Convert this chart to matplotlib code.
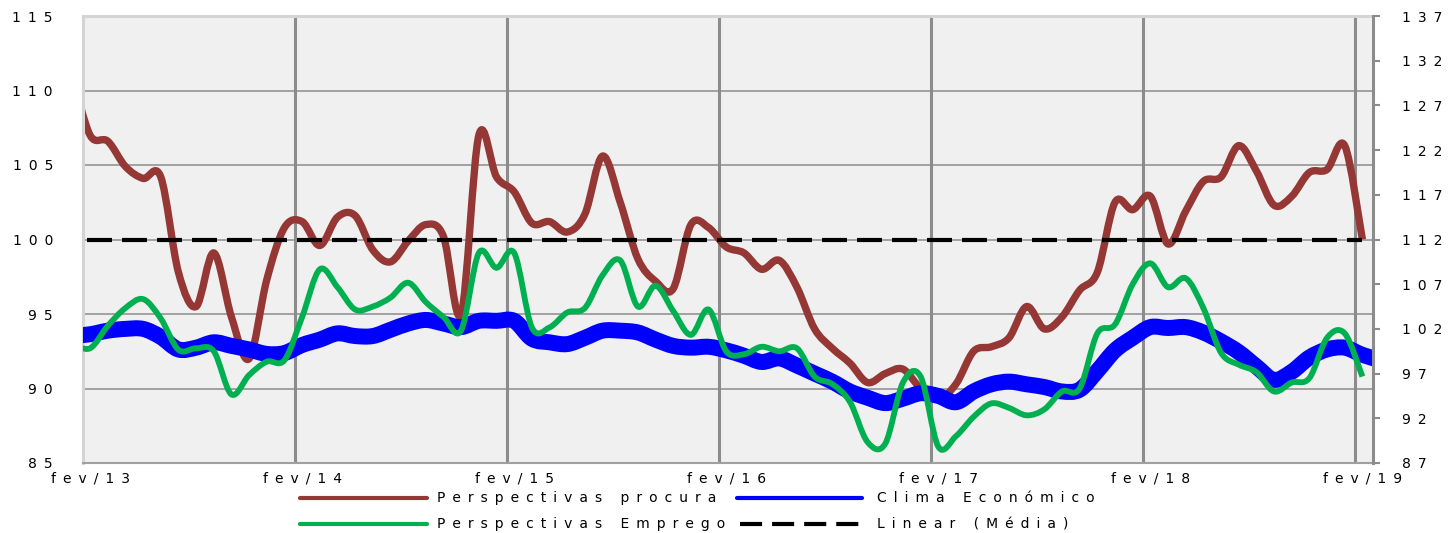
import numpy as np
import matplotlib
matplotlib.use("Agg")
import matplotlib.pyplot as plt
from matplotlib.path import Path
from matplotlib.patches import PathPatch
from matplotlib.lines import Line2D

plt.rcParams['font.family'] = ['DejaVu Sans']

# Months counted from fev/13 (jan/13 = -1 ... fev/19 = 72)
meses = np.arange(-1, 73)
meses_clima = np.arange(-1, 74)          # Clima Económico runs to mar/19

perspectivas_procura = [
    111.0, 107.0, 106.6, 104.9, 104.1, 104.2, 97.8, 95.5, 99.1, 94.8, 92.0, 97.3, 100.8,
    101.2, 99.6, 101.5, 101.6, 99.3, 98.5, 99.9, 101.0, 100.2, 95.0, 107.0, 104.2,
    103.2, 101.1, 101.2, 100.5, 101.7, 105.6, 102.5, 98.7, 97.2, 96.7, 101.0, 100.8,
    99.5, 99.1, 98.0, 98.6, 96.8, 94.0, 92.7, 91.7, 90.4, 91.0, 91.3, 90.0,
    89.3, 90.3, 92.5, 92.8, 93.4, 95.5, 94.0, 94.8, 96.6, 97.8, 102.5, 102.0,
    102.9, 99.7, 101.9, 103.9, 104.2, 106.3, 104.6, 102.3, 102.9, 104.5, 104.7, 106.3,
    100.0,
]

perspectivas_emprego = [
    93.0, 92.7, 94.2, 95.4, 96.0, 94.7, 92.6, 92.7, 92.5, 89.6, 90.9, 91.8, 91.9,
    94.8, 98.0, 96.8, 95.3, 95.5, 96.1, 97.1, 95.8, 94.8, 93.9, 99.1, 98.1,
    99.1, 94.1, 94.1, 95.1, 95.4, 97.6, 98.6, 95.5, 96.9, 95.2, 93.6, 95.3,
    92.5, 92.3, 92.8, 92.5, 92.7, 90.8, 90.3, 89.1, 86.4, 86.3, 90.4, 90.8,
    86.1, 86.8, 88.1, 89.0, 88.7, 88.2, 88.6, 89.8, 90.0, 93.7, 94.3, 97.0,
    98.4, 96.8, 97.4, 95.4, 92.4, 91.6, 91.1, 89.8, 90.4, 90.7, 93.4, 93.7,
    90.8,
]

clima_economico = [
    101.2, 101.4, 101.8, 102.0, 102.0, 101.1, 99.7, 99.9, 100.5, 100.1, 99.7, 99.2, 99.3,
    100.2, 100.8, 101.5, 101.2, 101.2, 101.9, 102.6, 103.0, 102.6, 102.2, 102.9, 102.9,
    102.9, 100.9, 100.5, 100.3, 101.0, 101.8, 101.8, 101.6, 100.8, 100.1, 99.9, 100.0,
    99.6, 99.0, 98.3, 98.7, 97.9, 97.0, 96.1, 95.0, 94.3, 93.7, 94.2, 94.8,
    94.5, 93.8, 95.0, 95.8, 96.1, 95.8, 95.5, 95.0, 95.2, 97.3, 99.6, 101.0,
    102.2, 102.1, 102.2, 101.6, 100.6, 99.4, 97.8, 96.3, 97.2, 98.8, 99.7, 99.9,
    99.1, 98.5,
]

media = 100.0

rotulos_x = ['fev/13', 'fev/14', 'fev/15', 'fev/16', 'fev/17', 'fev/18', 'fev/19']
ticks_esq = [85, 90, 95, 100, 105, 110, 115]
ticks_dir = [87, 92, 97, 102, 107, 112, 117, 122, 127, 132, 137]

COR_PROCURA = '#953735'
COR_CLIMA = '#0000ff'
COR_EMPREGO = '#00b050'
COR_GRADE = '#8c8c8c'
DIA = 0.4          # position of each monthly reading inside its month
FS = 10


def esp(s):
    """Wide tracking for labels."""
    return '\u2002'.join(s)


def curva(x, y):
    """Smoothed line through the points (cubic Bezier, Catmull-Rom tangents)."""
    p = np.column_stack([np.asarray(x, float), np.asarray(y, float)])
    ext = np.vstack([p[0], p, p[-1]])
    verts = [p[0]]
    codes = [Path.MOVETO]
    for i in range(len(p) - 1):
        p0, p1, p2, p3 = ext[i], ext[i + 1], ext[i + 2], ext[i + 3]
        verts += [p1 + (p2 - p0) / 6.0, p2 - (p3 - p1) / 6.0, p2]
        codes += [Path.CURVE4] * 3
    return Path(verts, codes)


W, H = 1451, 533
fig = plt.figure(figsize=(W / 100, H / 100), dpi=100)
fig.patch.set_facecolor('white')
L, R, B, T = 83, 1373, 463, 16
ax = fig.add_axes([L / W, 1 - B / H, (R - L) / W, (B - T) / H])
ax.set_facecolor('#f0f0f0')
ax2 = ax.twinx()
ax2.patch.set_visible(False)

x = meses + DIA
xc = meses_clima + DIA

# grid
for v in ticks_esq[1:-1]:
    ax.axhline(v, color=COR_GRADE, lw=1.1, zorder=0.5)
for k in range(1, 7):
    ax.axvline(12 * k, color=COR_GRADE, lw=2.2, zorder=0.6)

# series
ax.add_patch(PathPatch(curva(x, perspectivas_procura), fill=False, ec=COR_PROCURA,
                       lw=5.3, capstyle='butt', joinstyle='round', zorder=2))
ax2.add_patch(PathPatch(curva(xc, clima_economico), fill=False, ec=COR_CLIMA,
                        lw=11.5, capstyle='butt', joinstyle='round', zorder=2))
ax2.add_patch(PathPatch(curva(x, perspectivas_emprego), fill=False, ec=COR_EMPREGO,
                        lw=4.2, capstyle='butt', joinstyle='round', zorder=3,
                        transform=ax.transData))
ax2.plot([x[1] - 0.2, x[-1]], [media, media], color='black', lw=3.0, dashes=(6, 2.4),
         solid_capstyle='butt', dash_capstyle='butt', zorder=4, transform=ax.transData)

ax.set_xlim(0, 73)
ax.set_ylim(85, 115)
ax2.set_ylim(87, 137)

# axes frame
for s in ['top', 'left']:
    ax.spines[s].set_color('#d4d4d4')
    ax.spines[s].set_linewidth(2.2)
ax.spines['bottom'].set_color('#a0a0a0')
ax.spines['bottom'].set_linewidth(1.5)
ax.spines['right'].set_visible(False)
for s in ['top', 'left', 'bottom']:
    ax2.spines[s].set_visible(False)
ax2.spines['right'].set_color(COR_GRADE)
ax2.spines['right'].set_linewidth(2.2)

# ticks
ax.set_xticks([12 * k + DIA for k in range(len(rotulos_x))])
ax.set_xticklabels([esp(t) for t in rotulos_x], fontsize=FS)
ax.tick_params(axis='x', length=0, pad=6)
ax.set_yticks(ticks_esq)
ax.set_yticklabels([esp(str(t)) for t in ticks_esq], fontsize=FS)
ax.tick_params(axis='y', length=0, pad=21.6)
ax2.set_yticks(ticks_dir)
ax2.set_yticklabels([esp(str(t)) for t in ticks_dir], fontsize=FS)
ax2.tick_params(axis='y', length=5, width=1.5, color=COR_GRADE, pad=16)


# legend
def px(xp, yp):
    return xp / W, 1 - yp / H


itens = [
    (300, 427, 437, 498, COR_PROCURA, None, 'Perspectivas procura'),
    (737, 862, 877, 498, COR_CLIMA, None, 'Clima Económico'),
    (300, 427, 437, 524, COR_EMPREGO, None, 'Perspectivas Emprego'),
    (740, 862, 877, 524, 'black', (5.3, 2.4), 'Linear (Média)'),
]
for x0, x1, xt, yy, cor, tr, txt in itens:
    (fx0, fy), (fx1, _) = px(x0, yy), px(x1, yy)
    ln = Line2D([fx0, fx1], [fy, fy], transform=fig.transFigure, color=cor, lw=3,
                solid_capstyle='round')
    if tr is not None:
        ln.set_dashes(tr)
        ln.set_dash_capstyle('butt')
    fig.add_artist(ln)
    fig.text(*px(xt, yy), esp(txt), fontsize=FS, va='center', ha='left')

fig.savefig('out.png', dpi=100, facecolor='white')
